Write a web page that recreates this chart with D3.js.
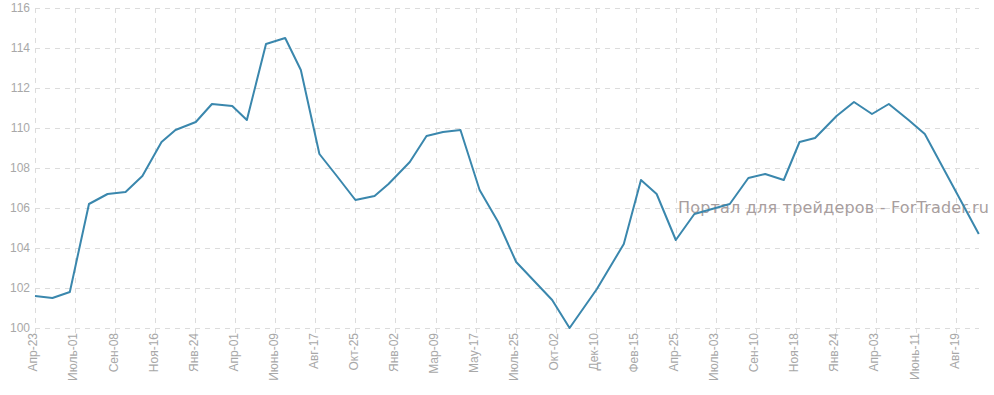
<!DOCTYPE html>
<html>
<head>
<meta charset="utf-8">
<script src="https://cdn.jsdelivr.net/npm/d3@7"></script>
<style>
  html, body { margin: 0; padding: 0; background: #fff; }
  svg { display: block; }
  .tick-label { font-family: "Liberation Sans", Arial, sans-serif; font-size: 12px; fill: #a8a8a8; }
  .watermark { font-family: "DejaVu Sans", Verdana, sans-serif; font-size: 16px; letter-spacing: 0.2px; fill: #a89e9e; }
</style>
</head>
<body>
<div id="chart"></div>
<script>
// axis labels (category ticks) and the dates they sit on
const tickLabels = ['Апр-23', 'Июль-01', 'Сен-08', 'Ноя-16', 'Янв-24', 'Апр-01', 'Июнь-09', 'Авг-17',
  'Окт-25', 'Янв-02', 'Мар-09', 'Мау-17', 'Июль-25', 'Окт-02', 'Дек-10', 'Фев-15',
  'Апр-25', 'Июль-03', 'Сен-10', 'Ноя-18', 'Янв-24', 'Апр-03', 'Июнь-11', 'Авг-19'];
const tickDates = ['2014-04-23', '2014-07-01', '2014-09-08', '2014-11-16', '2015-01-24', '2015-04-01',
  '2015-06-09', '2015-08-17', '2015-10-25', '2016-01-02', '2016-03-09', '2016-05-17',
  '2016-07-25', '2016-10-02', '2016-12-10', '2017-02-15', '2017-04-25', '2017-07-03',
  '2017-09-10', '2017-11-18', '2018-01-24', '2018-04-03', '2018-06-11', '2018-08-19'];

// series
const dates = ['2014-04-23', '2014-05-23', '2014-06-22', '2014-07-25', '2014-08-26', '2014-09-26',
  '2014-10-25', '2014-11-27', '2014-12-21', '2015-01-25', '2015-02-21', '2015-03-27',
  '2015-04-21', '2015-05-24', '2015-06-26', '2015-07-23', '2015-08-24', '2015-09-23',
  '2015-10-25', '2015-11-27', '2015-12-21', '2016-01-26', '2016-02-23', '2016-03-22',
  '2016-04-21', '2016-05-24', '2016-06-25', '2016-07-26', '2016-09-26', '2016-10-26',
  '2016-12-12', '2017-01-26', '2017-02-24', '2017-03-23', '2017-04-25', '2017-05-27',
  '2017-07-27', '2017-08-28', '2017-09-26', '2017-10-28', '2017-11-24', '2017-12-20',
  '2018-01-25', '2018-02-24', '2018-03-27', '2018-04-25', '2018-05-29', '2018-06-26',
  '2018-09-27'];
const values = [101.6, 101.5, 101.8, 106.2, 106.7, 106.8,
  107.6, 109.3, 109.9, 110.3, 111.2, 111.1,
  110.4, 114.2, 114.5, 112.9, 108.7, 107.6,
  106.4, 106.6, 107.2, 108.3, 109.6, 109.8,
  109.9, 106.9, 105.3, 103.3, 101.4, 100.0,
  101.95, 104.2, 107.4, 106.7, 104.4, 105.7,
  106.2, 107.5, 107.7, 107.4, 109.3, 109.5,
  110.6, 111.3, 110.7, 111.2, 110.4, 109.7,
  104.7];

const yTicks = [100, 102, 104, 106, 108, 110, 112, 114, 116];
const watermarkText = 'Портал для трейдеров - ForTrader.ru';

const W = 994, H = 395;
const margin = { top: 8, right: 15, bottom: 67, left: 35 };
const width = W - margin.left - margin.right;
const height = H - margin.top - margin.bottom;
const tickStep = 40.05;

const parse = d3.timeParse('%Y-%m-%d');
const data = dates.map((d, i) => ({ date: parse(d), value: values[i] }));
const ticks = tickDates.map(parse);

const svg = d3.select('#chart').append('svg')
  .attr('width', W)
  .attr('height', H);

const g = svg.append('g')
  .attr('transform', `translate(${margin.left},${margin.top})`);

// labels are evenly spaced on the axis, so map each label date to its slot
const x = d3.scaleTime()
  .domain(ticks)
  .range(ticks.map((_, i) => i * tickStep));

const y = d3.scaleLinear()
  .domain([100, 116])
  .range([height, 0]);

// horizontal grid
g.append('g')
  .selectAll('line')
  .data(yTicks)
  .join('line')
  .attr('x1', 0)
  .attr('x2', width)
  .attr('y1', d => Math.round(y(d)) + 0.5)
  .attr('y2', d => Math.round(y(d)) + 0.5)
  .attr('stroke', '#dcdcdc')
  .attr('stroke-dasharray', '5,5');

// vertical grid
g.append('g')
  .selectAll('line')
  .data(ticks)
  .join('line')
  .attr('x1', d => Math.round(x(d)) + 0.5)
  .attr('x2', d => Math.round(x(d)) + 0.5)
  .attr('y1', 0)
  .attr('y2', height + 5)
  .attr('stroke', '#dcdcdc')
  .attr('stroke-dasharray', '5,5');

// y labels
g.append('g')
  .selectAll('text')
  .data(yTicks)
  .join('text')
  .attr('class', 'tick-label')
  .attr('x', -5)
  .attr('y', d => y(d))
  .attr('dy', '0.35em')
  .attr('text-anchor', 'end')
  .text(d => d);

// x labels
g.append('g')
  .selectAll('text')
  .data(ticks)
  .join('text')
  .attr('class', 'tick-label')
  .attr('transform', d => `translate(${x(d)},${height + 5}) rotate(-90)`)
  .attr('dy', '0.2em')
  .attr('text-anchor', 'end')
  .text((d, i) => tickLabels[i]);

// watermark
g.append('text')
  .attr('class', 'watermark')
  .attr('x', 643)
  .attr('y', 205)
  .text(watermarkText);

const line = d3.line()
  .x(d => x(d.date))
  .y(d => y(d.value));

g.append('path')
  .datum(data)
  .attr('fill', 'none')
  .attr('stroke', '#3a87ad')
  .attr('stroke-width', 2)
  .attr('stroke-linejoin', 'round')
  .attr('d', line);
</script>
</body>
</html>
